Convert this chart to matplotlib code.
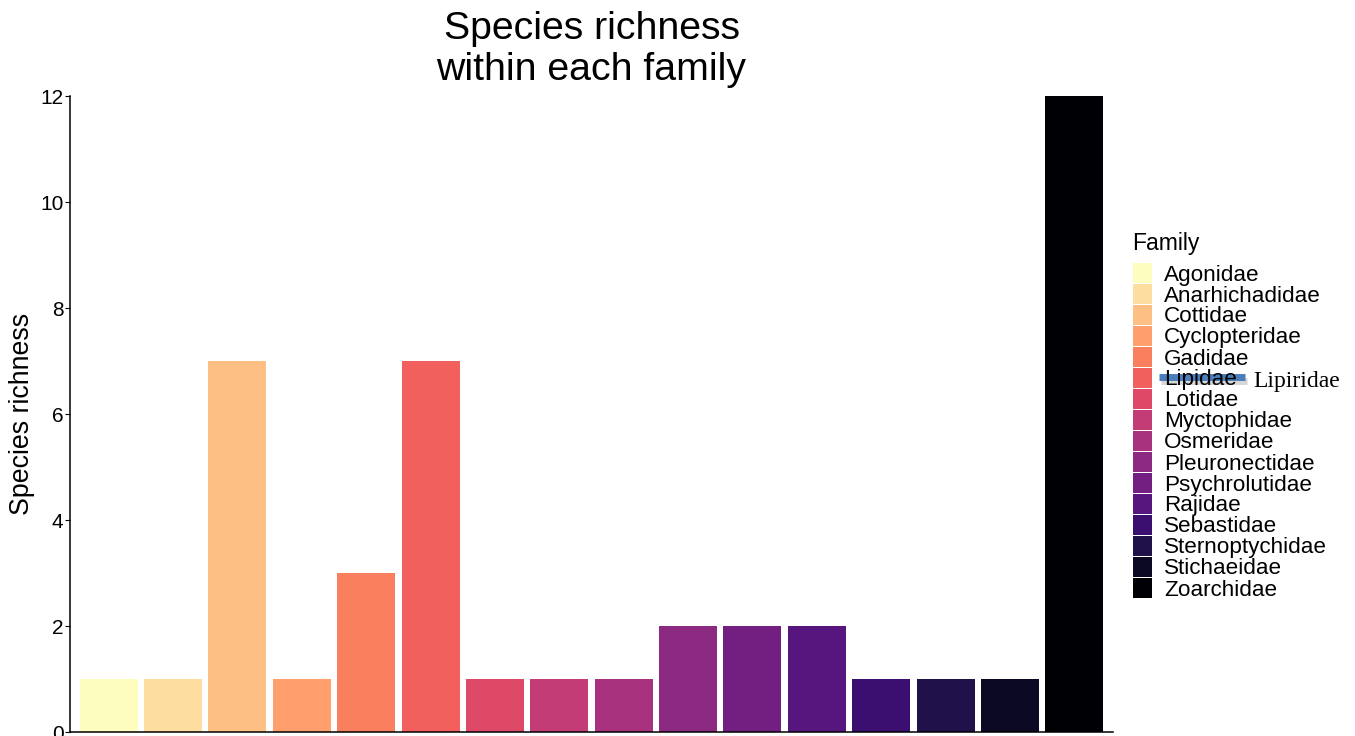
import matplotlib
matplotlib.use('Agg')
import matplotlib.pyplot as plt
from matplotlib.patches import Rectangle
import numpy as np

plt.rcParams['font.family'] = ['Liberation Sans', 'DejaVu Sans']

families = ['Agonidae', 'Anarhichadidae', 'Cottidae', 'Cyclopteridae', 'Gadidae',
            'Lipidae', 'Lotidae', 'Myctophidae', 'Osmeridae', 'Pleuronectidae',
            'Psychrolutidae', 'Rajidae', 'Sebastidae', 'Sternoptychidae',
            'Stichaeidae', 'Zoarchidae']
richness = [1, 1, 7, 1, 3, 7, 1, 1, 1, 2, 2, 2, 1, 1, 1, 12]
correction = 'Lipiridae'

colors = plt.cm.magma(np.linspace(1, 0, len(families)))

W, H = 1355, 736


def fx(px):
    return px / W


def fy(py):
    # pixel rows from the top -> figure fraction
    return 1 - py / H


fig = plt.figure(figsize=(W / 100, H / 100), dpi=100)
ax = fig.add_axes([fx(70), fy(732), fx(1113 - 70), (732 - 96) / H])

x = np.arange(len(families))
ax.bar(x, richness, width=0.9, color=colors)

ax.set_xlim(-0.6, len(families) - 0.4)
ax.set_ylim(0, 12)
ax.set_yticks([0, 2, 4, 6, 8, 10, 12])
ax.set_xticks([])
ax.tick_params(axis='y', labelsize=15, length=3.6, width=0.8, pad=1, colors='black')
ax.spines['top'].set_visible(False)
ax.spines['right'].set_visible(False)
ax.spines['left'].set_linewidth(1.1)
ax.spines['bottom'].set_linewidth(1.1)
ax.set_ylabel('Species richness', fontsize=19.3)
ax.yaxis.set_label_coords((35 - 70) / (1113 - 70), 0.5)

# title, two lines
fig.text(fx(591.5), fy(39), 'Species richness', ha='center', va='baseline', fontsize=28.3)
fig.text(fx(591.5), fy(80), 'within each family', ha='center', va='baseline', fontsize=28.3)

# legend drawn by hand (ggplot style keys)
fig.text(fx(1132), fy(249.5), 'Family', fontsize=16.5, va='baseline', ha='left')
for i, (name, c) in enumerate(zip(families, colors)):
    yc = 273 + 21 * i
    fig.add_artist(Rectangle((fx(1133), fy(yc + 10)), fx(19), 20 / H,
                             facecolor=c, edgecolor='none', transform=fig.transFigure))
    fig.text(fx(1164), fy(yc + 7.5), name, fontsize=16.2, va='baseline', ha='left')

# strike-through correction on the Lipidae label
yl = 377
fig.add_artist(plt.Line2D([fx(1161), fx(1247)], [fy(yl + 4), fy(yl + 4)],
                          color='#8c8c8c', alpha=0.35, linewidth=5, solid_capstyle='butt'))
fig.add_artist(plt.Line2D([fx(1159), fx(1245)], [fy(yl), fy(yl)],
                          color='#4A7EBB', linewidth=5, solid_capstyle='butt'))
fig.text(fx(1253), fy(386.5), correction, family='Liberation Serif',
         fontsize=17, va='baseline', ha='left')

fig.savefig('out.png', dpi=100)
